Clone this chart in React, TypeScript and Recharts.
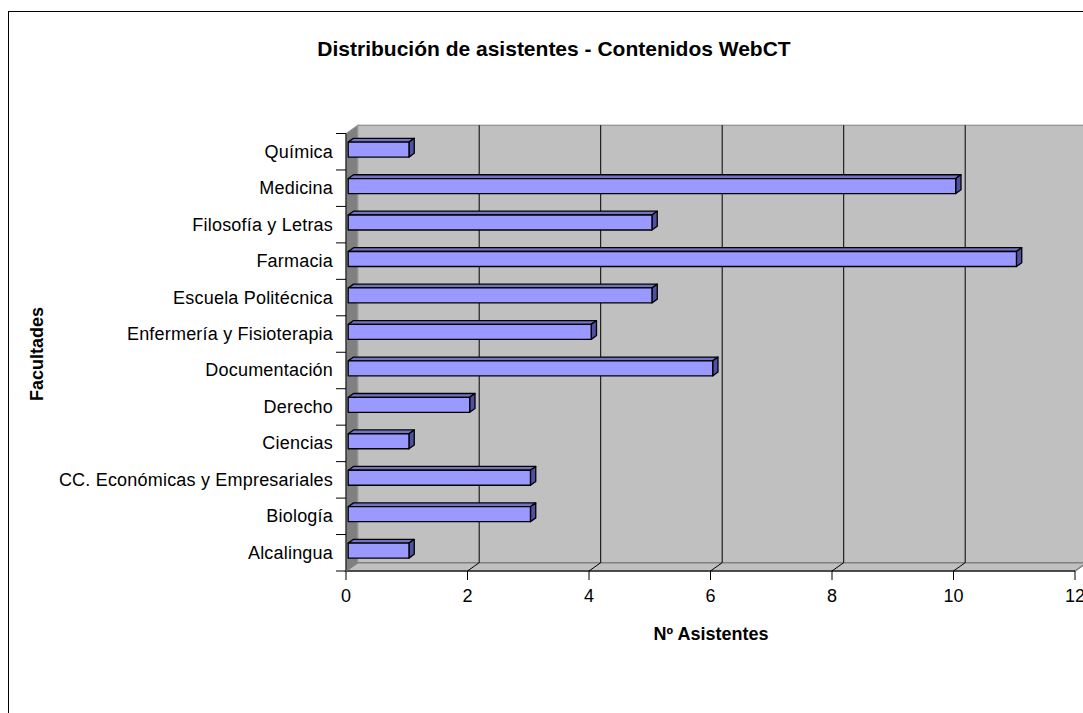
import { BarChart, Bar, XAxis, YAxis, CartesianGrid, ReferenceArea } from "recharts";

const facultades = [
  "Química",
  "Medicina",
  "Filosofía y Letras",
  "Farmacia",
  "Escuela Politécnica",
  "Enfermería y Fisioterapia",
  "Documentación",
  "Derecho",
  "Ciencias",
  "CC. Económicas y Empresariales",
  "Biología",
  "Alcalingua",
];
const asistentes = [1, 10, 5, 11, 5, 4, 6, 2, 1, 3, 3, 1];
const xTicks = [0, 2, 4, 6, 8, 10, 12];

const data = facultades.map((name, i) => ({ name, value: asistentes[i] }));

const FONT = '"Liberation Sans", Arial, sans-serif';
const W = 1090;
const H = 720;
const M = { top: 121.5, right: 24, bottom: 121, left: 0 };
const Y_AXIS_W = 337;
const X_AXIS_H = 40;
const PLOT_H = H - M.top - M.bottom - X_AXIS_H;
const BAND = PLOT_H / facultades.length;

// 3D depth of the walls and of the bars
const DX = 11.7;
const DY = -8.3;
const BDX = 5.3;
const BDY = -3.8;
const FX = 2.2;
const FY = -2.4;

function Walls(p: any) {
  const { x, y, width, height } = p;
  const b = y + height;
  return (
    <g>
      <rect x={x + DX} y={y + DY} width={width} height={height} fill="#C0C0C0" stroke="#808080" />
      <polygon
        points={`${x},${y} ${x + DX},${y + DY} ${x + DX},${b + DY} ${x},${b}`}
        fill="#808080"
        stroke="#9a9a9a"
      />
      <polygon
        points={`${x},${b} ${x + DX},${b + DY} ${x + width + DX},${b + DY} ${x + width},${b}`}
        fill="#C0C0C0"
        stroke="#808080"
        strokeWidth={1.5}
      />
    </g>
  );
}

const gridLine = (p: any) => {
  if (Math.abs(p.x1 - Y_AXIS_W) < 1) return <g key={p.key} />;
  return (
    <line
      key={p.key}
      x1={p.x1 + DX}
      y1={p.y1 + DY}
      x2={p.x2 + DX}
      y2={p.y2 + DY}
      stroke="#000"
      strokeWidth={1}
    />
  );
};

function Bar3D(p: any) {
  const { x, y, width, height } = p;
  if (!width) return null;
  const fx = x + FX;
  const fy = y + FY;
  const r = fx + width;
  const bt = fy + height;
  return (
    <g stroke="#000" strokeWidth={1.3} strokeLinejoin="round">
      <polygon points={`${fx},${fy} ${fx + BDX},${fy + BDY} ${r + BDX},${fy + BDY} ${r},${fy}`} fill="#7373C4" />
      <polygon points={`${r},${fy} ${r + BDX},${fy + BDY} ${r + BDX},${bt + BDY} ${r},${bt}`} fill="#5050A0" />
      <rect x={fx} y={fy} width={width} height={height} fill="#9999FF" />
    </g>
  );
}

function XTick(p: any) {
  const { x, y, payload } = p;
  const edge = payload.value === 0 || payload.value === 12;
  return (
    <g>
      <line x1={x} y1={y} x2={x} y2={y + 9} stroke="#000" />
      <line x1={x} y1={y} x2={x + DX} y2={y + DY} stroke={edge ? "#808080" : "#000"} />
      <text x={x} y={y + 30.7} textAnchor="middle" fontSize={18} fontFamily={FONT} fill="#000">
        {payload.value}
      </text>
    </g>
  );
}

function YTick(p: any) {
  const { x, y, payload } = p;
  const top = y - BAND / 2;
  const last = payload.value === facultades[facultades.length - 1];
  return (
    <g>
      <line x1={x - 10} y1={top} x2={x} y2={top} stroke="#000" />
      {last && <line x1={x - 10} y1={y + BAND / 2} x2={x} y2={y + BAND / 2} stroke="#000" />}
      <text
        x={x - 13}
        y={y + 6}
        textAnchor="end"
        fontSize={18}
        letterSpacing={0.2}
        fontFamily={FONT}
        fill="#000"
      >
        {payload.value}
      </text>
    </g>
  );
}

export default function App() {
  return (
    <div
      style={{
        position: "fixed",
        left: 0,
        top: 0,
        width: 1083,
        height: 713,
        overflow: "hidden",
        background: "#fff",
      }}
    >
      <div
        style={{
          position: "absolute",
          left: 8,
          top: 11,
          width: W,
          height: H,
          border: "1px solid #000",
          background: "#fff",
        }}
      >
        <BarChart width={W} height={H} data={data} layout="vertical" margin={M} barSize={15}>
          <ReferenceArea
            x1={0}
            x2={12}
            shape={Walls}
            ifOverflow="visible"
            zIndex={-200}
          />
          <CartesianGrid horizontal={false} vertical={gridLine} />
          <XAxis
            type="number"
            domain={[0, 12]}
            ticks={xTicks}
            interval={0}
            tick={XTick}
            tickSize={0}
            tickMargin={0}
            tickLine={false}
            axisLine={{ stroke: "#000" }}
            height={X_AXIS_H}
          />
          <YAxis
            type="category"
            dataKey="name"
            width={Y_AXIS_W}
            tick={YTick}
            tickSize={0}
            tickMargin={0}
            tickLine={false}
            interval={0}
            axisLine={{ stroke: "#000" }}
          />
          <Bar dataKey="value" shape={Bar3D} isAnimationActive={false} />
        </BarChart>
        <svg
          width={W}
          height={H}
          style={{ position: "absolute", left: 0, top: 0, pointerEvents: "none" }}
          fontFamily={FONT}
          fontWeight="bold"
        >
          <text x={545} y={43.5} textAnchor="middle" fontSize={21}>
            Distribución de asistentes - Contenidos WebCT
          </text>
          <text transform="translate(33.5,342) rotate(-90)" textAnchor="middle" fontSize={18}>
            Facultades
          </text>
          <text x={702} y={628} textAnchor="middle" fontSize={18}>
            Nº Asistentes
          </text>
        </svg>
      </div>
    </div>
  );
}
